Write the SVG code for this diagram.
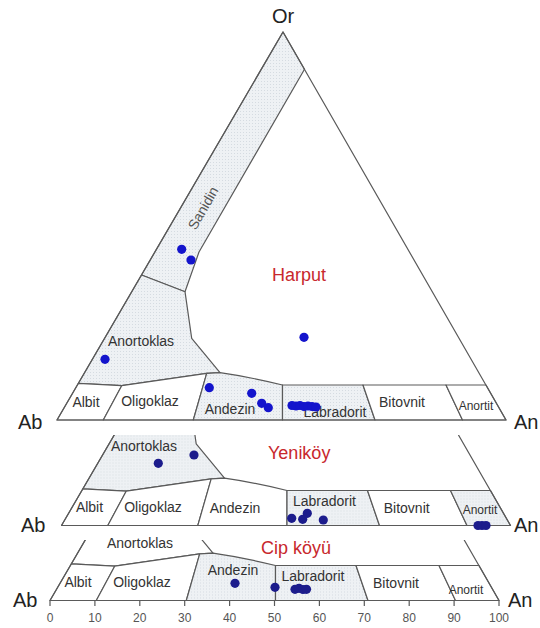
<svg xmlns="http://www.w3.org/2000/svg" xmlns:xlink="http://www.w3.org/1999/xlink" width="540" height="628" viewBox="0 0 540 628">
<style>
.f{stroke:#5a5a5a;stroke-width:1.2;fill:#ffffff;stroke-linejoin:round}
.sh{fill:url(#dots)}
.o{fill:none;stroke:#5a5a5a;stroke-width:1.2;stroke-linejoin:round}
.lb{font-family:"Liberation Sans",Arial,sans-serif;font-size:14px;fill:#333;text-anchor:middle}
.sm{font-size:12px}
.cn{font-family:"Liberation Sans",Arial,sans-serif;font-size:20px;fill:#222}
.rg{font-family:"Liberation Sans",Arial,sans-serif;font-size:18px;fill:#c8282d}
.ax{font-family:"Liberation Sans",Arial,sans-serif;font-size:12px;fill:#555;text-anchor:middle}
.tk{stroke:#5a5a5a;stroke-width:1.2}
.p1{fill:#1414cc}
.p2{fill:#1c1c8c}
</style>
<defs>
<pattern id="dots" width="3" height="3" patternUnits="userSpaceOnUse">
<rect width="3" height="3" fill="#eef1f4"/>
<rect width="1" height="1" fill="#d5dbe1"/>
</pattern>
<polygon id="albit" points="57,420 78.4,383.3 121.7,385.7 103.3,420"/>
<polygon id="oligoklaz" points="103.3,420 121.7,385.7 206.7,373.3 193.3,420"/>
<path id="andezin" d="M193.3,420 L206.7,373.3 L220,372.7 Q250,377 282.5,385 L282.5,420 Z"/>
<polygon id="labradorit" points="282.5,420 282.5,385 363,385 375,420"/>
<polygon id="bitovnit" points="375,420 363,385 446,385 462.5,420"/>
<polygon id="anortit" points="462.5,420 446,385 486,385 506,420"/>
<polygon id="anortoklas" points="78.4,383.3 141.5,275 185,291.7 191.7,338.3 220,372.7 206.7,373.3 121.7,385.7"/>
<polygon id="sanidin" points="141.5,275 283,32 304.5,69.3 199,252 185,291.7"/>
<polygon id="tri" points="57,420 283,32 506,420"/>
<clipPath id="clipM"><rect x="0" y="329.5" width="540" height="120"/></clipPath>
<clipPath id="clipB"><rect x="0" y="359.5" width="540" height="90"/></clipPath>
</defs>
<rect width="540" height="628" fill="#ffffff"/>

<g id="harput">
<use xlink:href="#sanidin" class="f sh"/>
<use xlink:href="#anortoklas" class="f sh"/>
<use xlink:href="#albit" class="f"/>
<use xlink:href="#oligoklaz" class="f"/>
<use xlink:href="#andezin" class="f sh"/>
<use xlink:href="#labradorit" class="f sh"/>
<use xlink:href="#bitovnit" class="f"/>
<use xlink:href="#anortit" class="f"/>
<use xlink:href="#tri" class="o"/>
<text class="lb" x="203" y="213" style="fill:#555" transform="rotate(-60 203 208)">Sanidin</text>
<text class="lb" x="141" y="346">Anortoklas</text>
<text class="lb" x="86" y="407">Albit</text>
<text class="lb" x="150" y="406">Oligoklaz</text>
<text class="lb" x="230" y="414">Andezin</text>
<text class="lb" x="335" y="417">Labradorit</text>
<text class="lb" x="402" y="407">Bitovnit</text>
<text class="lb sm" x="476" y="410">Anortit</text>
<text class="rg" x="272" y="281">Harput</text>
<g class="p1">
<circle cx="181.7" cy="249.3" r="4.6"/>
<circle cx="191" cy="260" r="4.6"/>
<circle cx="105" cy="359.3" r="4.6"/>
<circle cx="304" cy="337.3" r="4.6"/>
<circle cx="209.3" cy="387.7" r="4.6"/>
<circle cx="251.7" cy="393.3" r="4.6"/>
<circle cx="261.7" cy="403.3" r="4.6"/>
<circle cx="268.3" cy="407.7" r="4.6"/>
<circle cx="292" cy="405.5" r="4.6"/>
<circle cx="296" cy="406" r="4.6"/>
<circle cx="300" cy="405.5" r="4.6"/>
<circle cx="304" cy="406.5" r="4.6"/>
<circle cx="308" cy="406" r="4.6"/>
<circle cx="312" cy="406.5" r="4.6"/>
<circle cx="316" cy="407" r="4.6"/>
</g>
<text class="cn" x="272" y="23">Or</text>
<text class="cn" x="18" y="429">Ab</text>
<text class="cn" x="514" y="429">An</text>
</g>

<g id="yenikoy">
<g transform="translate(4.5,105.5)">
<g clip-path="url(#clipM)">
<use xlink:href="#anortoklas" class="f sh"/>
<use xlink:href="#albit" class="f"/>
<use xlink:href="#oligoklaz" class="f"/>
<use xlink:href="#andezin" class="f"/>
<use xlink:href="#labradorit" class="f sh"/>
<use xlink:href="#bitovnit" class="f"/>
<use xlink:href="#anortit" class="f sh"/>
<use xlink:href="#tri" class="o"/>
</g>
</g>
<text class="lb" x="144" y="451">Anortoklas</text>
<text class="lb" x="89.5" y="512">Albit</text>
<text class="lb" x="153" y="512">Oligoklaz</text>
<text class="lb" x="235" y="513">Andezin</text>
<text class="lb" x="324.5" y="505.5">Labradorit</text>
<text class="lb" x="406.7" y="513">Bitovnit</text>
<text class="lb sm" x="480" y="514">Anortit</text>
<text class="rg" x="268" y="459">Yeniköy</text>
<g class="p2">
<circle cx="158.3" cy="463.3" r="4.6"/>
<circle cx="194" cy="455" r="4.6"/>
<circle cx="291.7" cy="518.3" r="4.6"/>
<circle cx="302.7" cy="519.3" r="4.6"/>
<circle cx="307.3" cy="513.3" r="4.6"/>
<circle cx="323.3" cy="520" r="4.6"/>
<circle cx="478" cy="525.5" r="4.6"/>
<circle cx="482" cy="525.5" r="4.6"/>
<circle cx="486" cy="525.5" r="4.6"/>
</g>
<text class="cn" x="21" y="532">Ab</text>
<text class="cn" x="514" y="532">An</text>
</g>

<g id="cipkoyu">
<g transform="translate(-7,180.5)">
<g clip-path="url(#clipB)">
<use xlink:href="#anortoklas" class="f"/>
<use xlink:href="#albit" class="f"/>
<use xlink:href="#oligoklaz" class="f"/>
<use xlink:href="#andezin" class="f sh"/>
<use xlink:href="#labradorit" class="f sh"/>
<use xlink:href="#bitovnit" class="f"/>
<use xlink:href="#anortit" class="f"/>
<use xlink:href="#tri" class="o"/>
</g>
</g>
<text class="lb" x="140" y="548">Anortoklas</text>
<text class="lb" x="78" y="587">Albit</text>
<text class="lb" x="142" y="587">Oligoklaz</text>
<text class="lb" x="233" y="575">Andezin</text>
<text class="lb" x="313" y="581">Labradorit</text>
<text class="lb" x="396" y="588">Bitovnit</text>
<text class="lb sm" x="466" y="594">Anortit</text>
<text class="rg" x="261" y="554">Cip köyü</text>
<g class="p2">
<circle cx="235" cy="583.3" r="4.6"/>
<circle cx="275" cy="587.3" r="4.6"/>
<circle cx="295" cy="589.3" r="4.6"/>
<circle cx="299" cy="588.3" r="4.6"/>
<circle cx="303" cy="589.5" r="4.6"/>
<circle cx="306.5" cy="589.3" r="4.6"/>
</g>
<text class="cn" x="13" y="607">Ab</text>
<text class="cn" x="508" y="607">An</text>
</g>

<g id="axis">
<g class="tk">
<line x1="50" y1="600.5" x2="50" y2="606"/>
<line x1="94.9" y1="600.5" x2="94.9" y2="606"/>
<line x1="139.8" y1="600.5" x2="139.8" y2="606"/>
<line x1="184.7" y1="600.5" x2="184.7" y2="606"/>
<line x1="229.6" y1="600.5" x2="229.6" y2="606"/>
<line x1="274.5" y1="600.5" x2="274.5" y2="606"/>
<line x1="319.4" y1="600.5" x2="319.4" y2="606"/>
<line x1="364.3" y1="600.5" x2="364.3" y2="606"/>
<line x1="409.2" y1="600.5" x2="409.2" y2="606"/>
<line x1="454.1" y1="600.5" x2="454.1" y2="606"/>
<line x1="499" y1="600.5" x2="499" y2="606"/>
</g>
<text class="ax" x="50" y="622">0</text>
<text class="ax" x="94.9" y="622">10</text>
<text class="ax" x="139.8" y="622">20</text>
<text class="ax" x="184.7" y="622">30</text>
<text class="ax" x="229.6" y="622">40</text>
<text class="ax" x="274.5" y="622">50</text>
<text class="ax" x="319.4" y="622">60</text>
<text class="ax" x="364.3" y="622">70</text>
<text class="ax" x="409.2" y="622">80</text>
<text class="ax" x="454.1" y="622">90</text>
<text class="ax" x="499" y="622">100</text>
</g>
</svg>
